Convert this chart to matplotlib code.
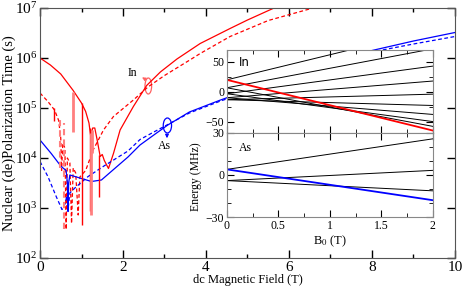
import numpy as np
import matplotlib
matplotlib.use('Agg')
import matplotlib.pyplot as plt
from matplotlib.patches import Ellipse

plt.rcParams['font.family'] = ['Liberation Serif', 'DejaVu Serif']
plt.rcParams['mathtext.fontset'] = 'stix'

# ---- main panel data (field in T, log10 of time in s) ----
red_B = [0, 0.25, 0.5, 0.8, 1.0, 1.1, 1.18, 1.22, 1.27, 1.32, 1.38, 1.45, 1.5, 1.55,
         1.65, 1.77, 1.93, 2.25, 2.57, 2.9, 3.3, 3.86, 4.58, 5.0, 5.64]
red_logT = [6.0, 5.86, 5.68, 5.35, 5.1, 4.93, 4.7, 4.45, 4.6, 4.6, 4.35, 4.03, 4.07, 3.95,
            3.79, 4.09, 4.56, 5.03, 5.45, 5.72, 5.98, 6.29, 6.59, 6.76, 7.0]

redd_B = [0, 0.19, 0.35, 0.45, 0.5, 0.52, 0.55, 0.6, 0.63, 0.66, 0.72, 0.76, 0.8, 0.86,
          0.92, 0.96, 1.1, 1.28, 1.53, 1.77, 2.25, 2.6, 3.0, 3.61, 3.86, 4.58, 5.5, 6.58]
redd_logT = [5.3, 5.13, 4.96, 4.75, 4.4, 3.75, 4.3, 4.2, 2.57, 4.0, 3.9, 2.69, 3.8, 3.7,
             2.86, 3.62, 3.75, 4.16, 4.56, 4.83, 5.16, 5.42, 5.65, 5.96, 6.09, 6.43, 6.75, 7.0]

blue_B = [0, 0.27, 0.51, 0.63, 0.66, 0.675, 0.69, 0.72, 0.92, 1.24, 1.48, 1.8, 2.12, 2.41,
          2.81, 3.08, 3.6, 4.35, 5, 6, 7, 8, 9, 10]
blue_logT = [4.36, 4.09, 3.83, 3.75, 3.5, 2.93, 3.5, 3.66, 3.61, 3.53, 3.56, 3.79, 4.02, 4.26,
             4.5, 4.66, 4.92, 5.16, 5.35, 5.62, 5.9, 6.15, 6.34, 6.51]

blued_B = [0, 0.19, 0.39, 0.53, 0.6, 0.65, 0.68, 0.72, 0.84, 1.16, 1.56, 2.12, 2.41, 2.81,
           3.08, 3.6, 4.35, 5, 6, 7, 8, 9, 10]
blued_logT = [3.93, 3.63, 3.23, 2.97, 3.08, 3.25, 3.0, 3.3, 3.4, 3.63, 3.85, 4.14, 4.37, 4.55,
              4.67, 4.9, 5.14, 5.32, 5.57, 5.82, 6.12, 6.28, 6.43]

# sharp resonances on the red solid curve
spike_B = [1.02, 1.21, 1.43, 0.33]
spike_top = [5.09, 4.6, 4.05, 5.0]
spike_bot = [2.65, 2.93, 3.22, 4.73]
# light red resonances
lspike_B = [0.8, 1.23, 1.25]
lspike_top = [5.33, 4.5, 4.55]
lspike_bot = [4.52, 2.86, 4.1]
lspiked_B = [0.58, 0.47]
lspiked_top = [4.7, 4.8]
lspiked_bot = [2.57, 3.8]

# ---- inset data: level energies (MHz) at B0 = 0 and B0 = 2 T ----
in_E0 = [20, 6.7, -3.3, -10, -13.3, -13.3, -10, -3.3, 6.7]
in_E2 = [104, 72, 43, 18, -4, -23, -38, -50, -58]
in_red = [20, -65]
as_E0 = [4, -4, -4]
as_E2 = [25.8, 3.3, -11.3]
as_blue = [4, -18]
B0_ends = [0, 2]

fig = plt.figure(figsize=(4.63, 2.89), dpi=100)
ax = fig.add_axes([0.0864, 0.1073, 0.8963, 0.865])

ax.plot(red_B, np.power(10.0, red_logT), color='red', lw=0.9)
ax.plot(redd_B, np.power(10.0, redd_logT), color='red', lw=0.9, ls=(0, (3, 2)))
ax.plot(blue_B, np.power(10.0, blue_logT), color='blue', lw=0.9)
ax.plot(blued_B, np.power(10.0, blued_logT), color='blue', lw=0.9, ls=(0, (3, 2)))
ax.vlines(spike_B, np.power(10.0, spike_bot), np.power(10.0, spike_top), color='red', lw=1.0)
ax.vlines(lspike_B, np.power(10.0, lspike_bot), np.power(10.0, lspike_top),
          color='#ff7f7f', lw=2.0)
ax.vlines(lspiked_B, np.power(10.0, lspiked_bot), np.power(10.0, lspiked_top),
          color='#ff7f7f', lw=1.5, linestyles=(0, (3, 2)))

ax.set_yscale('log')
ax.set_xlim(0, 10)
ax.set_ylim(1e2, 1e7)
ax.set_xticks([0, 2, 4, 6, 8, 10])
ax.set_xticks([1, 3, 5, 7, 9], minor=True)
ax.set_yticks([1e2, 1e3, 1e4, 1e5, 1e6, 1e7])
ax.set_yticks([], minor=True)
ax.tick_params(which='both', direction='in', top=True, right=True, labelsize=11, pad=2)
ax.tick_params(which='major', length=6, width=1)
ax.tick_params(which='minor', length=3, width=1)
for s in ax.spines.values():
    s.set_color('#555555')
ax.set_xlabel('dc Magnetic Field (T)', fontsize=9, labelpad=0)
ax.set_ylabel('Nuclear (de)Polarization Time (s)', fontsize=10.5, labelpad=-1)

# annotations
ax.add_patch(Ellipse((2.61 / 10, (5.44 - 2) / 5), 0.016, 0.064, transform=ax.transAxes,
                     fill=False, ec='#ff6060', lw=0.9))
ax.annotate('', xy=(0.24, 0.728), xytext=(0.257, 0.712), xycoords='axes fraction',
            arrowprops=dict(arrowstyle='-|>', color='#ff6060', lw=0.8, mutation_scale=5))
ax.text(2.22, 10**5.7, 'In', fontsize=8.5, ha='center', va='center')
ax.add_patch(Ellipse((3.07 / 10, (4.65 - 2) / 5), 0.02, 0.06, transform=ax.transAxes,
                     fill=False, ec='blue', lw=0.9))
ax.annotate('', xy=(0.306, 0.468), xytext=(0.306, 0.502), xycoords='axes fraction',
            arrowprops=dict(arrowstyle='-|>', color='blue', lw=0.8, mutation_scale=5))
ax.text(2.99, 10**4.23, 'As', fontsize=8.5, ha='center', va='center')

# ---- inset ----
ax_in = fig.add_axes([0.490, 0.540, 0.445, 0.287])
ax_as = fig.add_axes([0.490, 0.249, 0.445, 0.291])
for e0, e2 in zip(in_E0, in_E2):
    ax_in.plot(B0_ends, [e0, e2], color='black', lw=0.7)
ax_in.plot(B0_ends, in_red, color='red', lw=1.3)
for e0, e2 in zip(as_E0, as_E2):
    ax_as.plot(B0_ends, [e0, e2], color='black', lw=0.7)
ax_as.plot(B0_ends, as_blue, color='blue', lw=1.3)

ax_in.set_xlim(0, 2)
ax_in.set_ylim(-69, 70)
ax_in.set_yticks([-50, 0, 50])
ax_in.set_yticks([-25, 25], minor=True)
ax_as.set_xlim(0, 2)
ax_as.set_ylim(-30, 30)
ax_as.set_yticks([-30, 0, 30])
ax_as.set_yticks([-20, -10, 10, 20], minor=True)
for a in (ax_in, ax_as):
    a.set_xticks([0, 0.5, 1, 1.5, 2])
    a.set_xticks([0.25, 0.75, 1.25, 1.75], minor=True)
    a.tick_params(which='both', direction='in', top=True, right=True, labelsize=8.5, pad=2)
    a.tick_params(which='major', length=5)
    a.tick_params(which='minor', length=3)
    for s in a.spines.values():
        s.set_color('#888888')
ax_in.set_xticklabels([])
ax_as.set_xticklabels(['0', '0.5', '1', '1.5', '2'])
ax_in.text(0.06, 0.85, 'In', transform=ax_in.transAxes, fontsize=8.5,
           family='DejaVu Sans', va='center')
ax_as.text(0.06, 0.82, 'As', transform=ax_as.transAxes, fontsize=8.5, va='center')
ax_as.set_xlabel('B$_0$ (T)', fontsize=9, labelpad=1)
fig.text(0.424, 0.39, 'Energy (MHz)', rotation=90, fontsize=8.5, ha='center', va='center')

fig.savefig('out.png', dpi=100)
